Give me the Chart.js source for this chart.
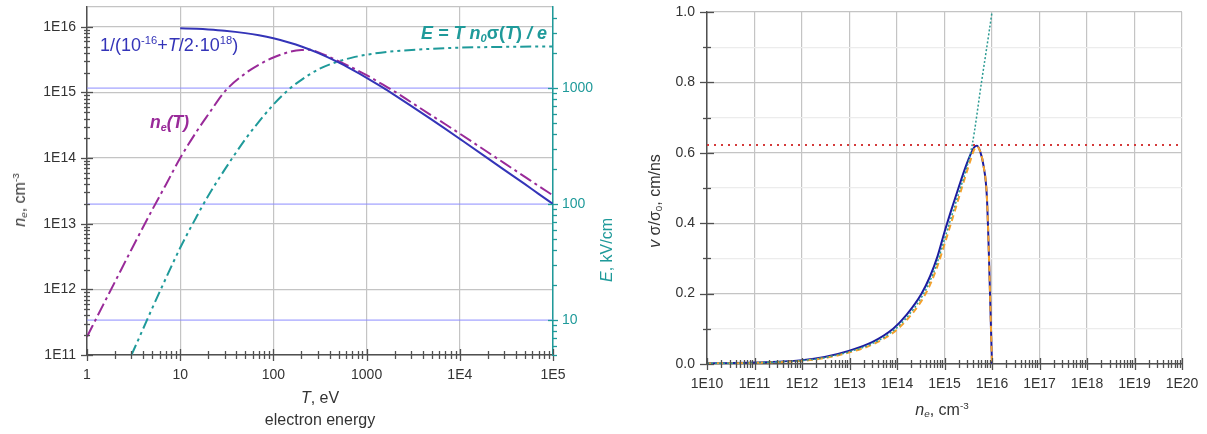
<!DOCTYPE html>
<html><head><meta charset="utf-8">
<script src="https://cdn.jsdelivr.net/npm/chart.js@4.4.1/dist/chart.umd.min.js"></script>
<style>
body{margin:0;background:#fff;width:1207px;height:434px;overflow:hidden;position:relative;font-family:'Liberation Sans',Arial,sans-serif;}
canvas{position:absolute;top:0}
.lbl{position:absolute;white-space:nowrap;line-height:1;}
sup{font-size:0.62em;vertical-align:0.6em;line-height:0}
sub{font-size:0.62em;vertical-align:-0.25em;line-height:0}
.rot{transform:translate(-50%,-50%) rotate(-90deg);}
.ctr{transform:translate(-50%,-50%);}
</style></head><body>
<canvas id="c1" width="605" height="434" style="left:0"></canvas>
<canvas id="c2" width="602" height="434" style="left:605px"></canvas>

<div class="lbl" style="left:100px;top:45px;transform:translateY(-50%);color:#3434b8;font-size:18px">1/(10<sup>-16</sup>+<i>T</i>/2·10<sup>18</sup>)</div>
<div class="lbl" style="left:150px;top:123px;transform:translateY(-50%);color:#992a99;font-size:17.5px;font-weight:bold;font-style:italic">n<sub>e</sub>(T)</div>
<div class="lbl" style="right:660px;top:33px;transform:translateY(-50%);color:#1f9a9a;font-size:18px;font-weight:bold;font-style:italic">E = T n<sub>0</sub><span style="font-style:normal">σ(</span>T<span style="font-style:normal">)</span> / e</div>

<div class="lbl ctr" style="left:320px;top:398px;color:#333;font-size:16px"><i>T</i>, eV</div>
<div class="lbl ctr" style="left:320px;top:420px;color:#333;font-size:16px">electron energy</div>
<div class="lbl rot" style="left:20px;top:200px;color:#333;font-size:16px"><i>n<sub>e</sub></i>, cm<sup>-3</sup></div>
<div class="lbl rot" style="left:607px;top:250px;color:#1f9a9a;font-size:16px"><i>E</i>, kV/cm</div>

<div class="lbl rot" style="left:655px;top:201px;color:#333;font-size:16px"><i>v</i> σ/σ<sub>0</sub>, cm/ns</div>
<div class="lbl ctr" style="left:942px;top:410px;color:#333;font-size:16px"><i>n<sub>e</sub></i>, cm<sup>-3</sup></div>

<script>
// ================= DATA =================
// Left panel: T (eV)
const T_bound = [10,15,20,30,50,70,100,150,200,300,500,700,1000,1500,2000,3000,5000,7000,1e4,2e4,3e4,5e4,7e4,1e5];
const n_bound = [9.52e15,9.30e15,9.09e15,8.70e15,8.00e15,7.41e15,6.67e15,5.71e15,5.00e15,4.00e15,2.86e15,2.22e15,1.67e15,1.18e15,9.09e14,6.25e14,3.85e14,2.78e14,1.96e14,9.9e13,6.6e13,4.0e13,2.85e13,2.0e13];
const T_ne = [1,1.5,2,3,5,7,10,15,20,30,50,70,100,150,200,250,300,500,700,1000,1500,2000,3000,5000,7000,1e4,2e4,3e4,5e4,7e4,1e5];
const n_ne = [1.9e11,5.9e11,1.31e12,4.05e12,1.62e13,3.9e13,1.0e14,2.54e14,4.6e14,1.03e15,1.95e15,2.65e15,3.4e15,4.15e15,4.42e15,4.45e15,4.1e15,3.0e15,2.38e15,1.83e15,1.31e15,1.03e15,7.1e14,4.44e14,3.27e14,2.35e14,1.225e14,8.37e13,5.17e13,3.76e13,2.7e13];
const T_E = [3,4,5,7,10,15,20,30,50,70,100,150,200,300,500,700,1000,2000,5000,1e4,3e4,1e5];
const E_kV = [5.0,8.4,12.6,22.8,42,78,118,198,362,514,720,990,1178,1442,1700,1830,1940,2080,2180,2230,2265,2285];
const E_refLines = [10,100,1000];
const leftXTickVals = [1,10,100,1000,1e4,1e5];
const leftXTickLabels = ['1','10','100','1000','1E4','1E5'];
const leftYTickVals = [1e11,1e12,1e13,1e14,1e15,1e16];
const leftYTickLabels = ['1E11','1E12','1E13','1E14','1E15','1E16'];
const rightETickVals = [10,100,1000];
const rightETickLabels = ['10','100','1000'];

// Right panel: n_e (cm^-3)
const ne_curve = [1e10,1e11,1e12,3e12,1e13,3e13,8.3e13,1.6e14,3.3e14,5e14,7.1e14,1e15,1.41e15,2e15,2.82e15,3.55e15,4.17e15,4.8e15,5.6e15,6.6e15,7.8e15,8.7e15,9.3e15,9.8e15,1e16];
const v_blue   = [0.002,0.004,0.011,0.02,0.038,0.062,0.1,0.14,0.2,0.25,0.305,0.375,0.44,0.503,0.562,0.596,0.615,0.62,0.605,0.565,0.475,0.29,0.15,0.04,0];
const v_orange = [0.0015,0.0033,0.009,0.017,0.033,0.055,0.089,0.125,0.18,0.226,0.278,0.34,0.405,0.472,0.538,0.58,0.608,0.618,0.605,0.565,0.475,0.29,0.15,0.04,0];
const ne_teal = [1e10,1e11,1e12,3e12,1e13,3e13,8.3e13,1.6e14,3.3e14,5e14,7.1e14,1e15,1.41e15,2e15,2.82e15,3.8e15,6e15,1e16,1.2e16];
const v_teal  = [0.0017,0.0036,0.01,0.018,0.035,0.058,0.094,0.132,0.19,0.237,0.29,0.355,0.42,0.486,0.55,0.62,0.8,1.0,1.08];
const v_limit = 0.622;
const rightXTickVals = [1e10,1e11,1e12,1e13,1e14,1e15,1e16,1e17,1e18,1e19,1e20];
const rightXTickLabels = ['1E10','1E11','1E12','1E13','1E14','1E15','1E16','1E17','1E18','1E19','1E20'];
const rightYTickVals = [0,0.2,0.4,0.6,0.8,1.0];
const rightYTickLabels = ['0.0','0.2','0.4','0.6','0.8','1.0'];

// ================= HELPERS =================
Chart.defaults.font.family = "'Liberation Sans', Arial, sans-serif";
Chart.defaults.font.size = 14;
const GRID = '#c4c4c4', GRID_LIGHT = '#ececec', AXIS = '#505050', TEAL = '#1f9a9a';
const NONE = 'rgba(0,0,0,0)';
function isDecade(v){ const l=Math.log10(v); return Math.abs(l-Math.round(l))<1e-6; }
function logTicks(min,max){ const out=[]; for(let e=Math.floor(Math.log10(min)); e<=Math.ceil(Math.log10(max)); e++){ for(let d=1; d<10; d++){ const v=d*Math.pow(10,e); if(v>=min*(1-1e-9) && v<=max*(1+1e-9)) out.push(v);} } return out; }
function labelFor(v, vals, labels){ for(let i=0;i<vals.length;i++){ const r=vals[i]; if((r===0 && Math.abs(v)<1e-9) || (r!==0 && Math.abs(v/r-1)<1e-6)) return labels[i]; } return ''; }
function pts(xs, ys){ return xs.map((x,i)=>({x:x, y:ys[i]})); }
function fixV(w){ return s=>{ s.width=w; s.paddingTop=0; s.paddingBottom=0; }; }
function fixH(h){ return s=>{ s.height=h; s.paddingLeft=0; s.paddingRight=0; }; }
function marksPlugin(specs){
  return { id:'marks', afterDraw(chart){
    const ctx=chart.ctx, a=chart.chartArea;
    specs.forEach(sp=>{
      const sc=chart.scales[sp.id];
      ctx.save(); ctx.strokeStyle=sp.color; ctx.lineWidth=1.3;
      sc.ticks.forEach(t=>{
        const v=t.value;
        if(sp.skip && sp.skip(v)) return;
        const maj=sp.isMajor(v); const inL=maj?sp.majIn:sp.minIn, outL=maj?sp.majOut:sp.minOut;
        const p=Math.round(sc.getPixelForValue(v));
        ctx.beginPath();
        if(sp.edge==='bottom'){ctx.moveTo(p+0.5,a.bottom-inL);ctx.lineTo(p+0.5,a.bottom+outL);}
        else if(sp.edge==='left'){ctx.moveTo(a.left+inL,p+0.5);ctx.lineTo(a.left-outL,p+0.5);}
        else {ctx.moveTo(a.right-inL,p+0.5);ctx.lineTo(a.right+outL,p+0.5);}
        ctx.stroke();
      });
      ctx.restore();
    });
  }};
}

// ================= LEFT CHART =================
const leftDatasets = [
  {data: pts(T_bound,n_bound), borderColor:'#3434b8', borderWidth:2, yAxisID:'y', order:1, cubicInterpolationMode:'monotone'},
  {data: pts(T_ne,n_ne), borderColor:'#992a99', borderWidth:2, borderDash:[13,4,3,4], yAxisID:'y', order:2, cubicInterpolationMode:'monotone'},
  {data: pts(T_E,E_kV), borderColor:'#1f9a9a', borderWidth:2, borderDash:[11,4,3,4,3,4], yAxisID:'y2', order:3, cubicInterpolationMode:'monotone'}
];
E_refLines.forEach(e=>leftDatasets.push({data:[{x:1,y:e},{x:1e5,y:e}], borderColor:'#8c8cff', borderWidth:1, yAxisID:'y2', order:10}));

new Chart(document.getElementById('c1'), {
  type:'line',
  data:{datasets:leftDatasets},
  options:{
    responsive:false, animation:false, devicePixelRatio:1,
    layout:{padding:{top:7,left:0,right:0,bottom:0}},
    plugins:{legend:{display:false}, tooltip:{enabled:false}},
    elements:{point:{radius:0}, line:{fill:false}},
    scales:{
      x:{type:'logarithmic', min:1, max:1e5,
        afterBuildTicks:s=>{s.ticks=logTicks(1,1e5).map(v=>({value:v}));},
        afterFit:fixH(79),
        grid:{color:c=>isDecade(c.tick.value)?GRID:NONE, drawTicks:false, lineWidth:1.2},
        border:{color:AXIS,width:1.5},
        ticks:{autoSkip:false,maxRotation:0,padding:12,color:'#333',callback:v=>labelFor(v,leftXTickVals,leftXTickLabels)}},
      y:{type:'logarithmic', position:'left', min:1e11, max:2e16,
        afterBuildTicks:s=>{s.ticks=logTicks(1e11,2e16).map(v=>({value:v}));},
        afterFit:fixV(87),
        grid:{color:c=>(isDecade(c.tick.value)||c.tick.value>1.5e16)?GRID:NONE, drawTicks:false, lineWidth:1.2},
        border:{color:AXIS,width:1.5},
        ticks:{autoSkip:false,padding:11,color:'#333',callback:v=>labelFor(v,leftYTickVals,leftYTickLabels)}},
      y2:{type:'logarithmic', position:'right', min:5, max:5000,
        afterBuildTicks:s=>{s.ticks=logTicks(5,5000).map(v=>({value:v}));},
        afterFit:fixV(52),
        grid:{drawOnChartArea:false, drawTicks:false},
        border:{color:TEAL,width:1.5},
        ticks:{autoSkip:false,padding:9,color:TEAL,callback:v=>labelFor(v,rightETickVals,rightETickLabels)}}
    }
  },
  plugins:[marksPlugin([
    {id:'x', edge:'bottom', color:AXIS, isMajor:isDecade, majIn:6, majOut:6, minIn:4, minOut:4},
    {id:'y', edge:'left', color:AXIS, isMajor:isDecade, majIn:6, majOut:6, minIn:3, minOut:3, skip:v=>v>1.05e16},
    {id:'y2', edge:'right', color:TEAL, isMajor:isDecade, majIn:5, majOut:5, minIn:0, minOut:4, skip:v=>v>=4999}
  ])]
});

// ================= RIGHT CHART =================
new Chart(document.getElementById('c2'), {
  type:'line',
  data:{datasets:[
    {data: pts(ne_curve,v_blue), borderColor:'#1c1ca0', borderWidth:2, order:3, cubicInterpolationMode:'monotone'},
    {data: pts(ne_curve,v_orange), borderColor:'#f4a12c', borderWidth:2, borderDash:[6,4], order:2, cubicInterpolationMode:'monotone'},
    {data: pts(ne_teal,v_teal), borderColor:'#2a9a92', borderWidth:1.5, borderDash:[2,2], order:1, cubicInterpolationMode:'monotone'},
    {data: [{x:1e10,y:v_limit},{x:1e20,y:v_limit}], borderColor:'#d43b3b', borderWidth:2, borderDash:[2,5], order:0}
  ]},
  options:{
    responsive:false, animation:false, devicePixelRatio:1,
    layout:{padding:{top:12,left:0,right:25,bottom:0}},
    plugins:{legend:{display:false}, tooltip:{enabled:false}},
    elements:{point:{radius:0}, line:{fill:false}},
    scales:{
      x:{type:'logarithmic', min:1e10, max:1e20,
        afterBuildTicks:s=>{s.ticks=logTicks(1e10,1e20).map(v=>({value:v}));},
        afterFit:fixH(70),
        grid:{color:c=>isDecade(c.tick.value)?GRID:NONE, drawTicks:false, lineWidth:1.2},
        border:{color:AXIS,width:1.5},
        ticks:{autoSkip:false,maxRotation:0,padding:12,color:'#333',callback:v=>labelFor(v,rightXTickVals,rightXTickLabels)}},
      y:{type:'linear', position:'left', min:0, max:1,
        afterBuildTicks:s=>{const t=[]; for(let i=0;i<=10;i++) t.push({value:i/10}); s.ticks=t;},
        afterFit:fixV(102),
        grid:{color:c=>{const v=c.tick.value; return Math.abs(v*5-Math.round(v*5))<1e-6?GRID:GRID_LIGHT;}, drawTicks:false, lineWidth:1.2},
        border:{color:AXIS,width:1.5},
        ticks:{autoSkip:false,padding:12,color:'#333',callback:v=>labelFor(v,rightYTickVals,rightYTickLabels)}}
    }
  },
  plugins:[marksPlugin([
    {id:'x', edge:'bottom', color:AXIS, isMajor:isDecade, majIn:6, majOut:6, minIn:4, minOut:4},
    {id:'y', edge:'left', color:AXIS, isMajor:v=>Math.abs(v*5-Math.round(v*5))<1e-6, majIn:7, majOut:7, minIn:4, minOut:4}
  ])]
});
</script>
</body></html>
